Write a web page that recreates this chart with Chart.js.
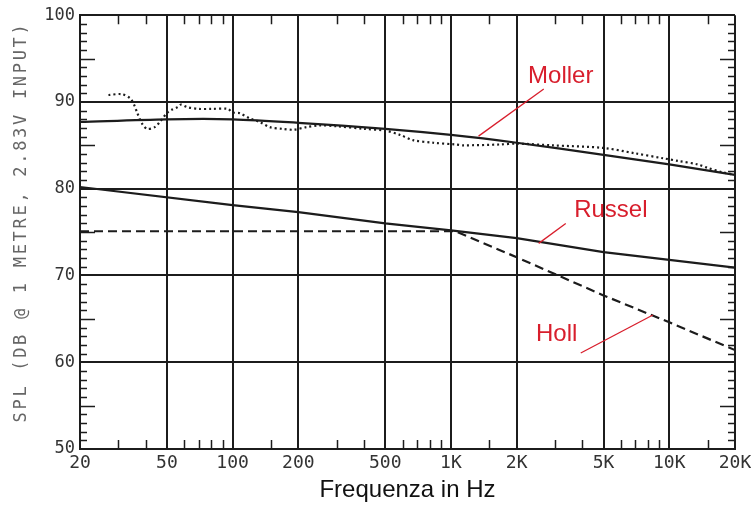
<!DOCTYPE html>
<html>
<head>
<meta charset="utf-8">
<script src="https://cdn.jsdelivr.net/npm/chart.js@4.4.0/dist/chart.umd.min.js"></script>
<style>
  html, body { margin: 0; padding: 0; background: #fff; }
</style>
</head>
<body>
<canvas id="graf" width="751" height="505"></canvas>
<script>
"use strict";

// Asse X (frequenza, log) e asse Y (SPL in dB)
const freqTicks = [20, 50, 100, 200, 500, 1000, 2000, 5000, 10000, 20000];
const freqLabels = ["20", "50", "100", "200", "500", "1K", "2K", "5K", "10K", "20K"];
const freqMinor = [30, 40, 60, 70, 80, 90, 150, 300, 400, 600, 700, 800, 900, 1500,
  3000, 4000, 6000, 7000, 8000, 9000, 15000];
const splTicks = [50, 60, 70, 80, 90, 100];

// Moller - curva misurata (puntini)
const mollerMisFreq = [27, 31, 34, 35.5, 36.5, 38.5, 40.6, 44, 46.4, 50, 52.6, 56, 58, 62, 70,
  80, 95, 100, 108, 120, 133, 148, 170, 190, 218, 250, 300, 400, 500, 585, 670, 830, 1050,
  1140, 1680, 2000, 2900, 5000, 6900, 9400, 11000, 13500, 15000, 17500, 20000];
const mollerMisSpl = [90.8, 90.9, 90.4, 89.6, 88.8, 87.5, 86.9, 87.1, 87.7, 88.7, 89.1, 89.4,
  89.7, 89.4, 89.2, 89.2, 89.2, 88.8, 88.7, 88.1, 87.7, 87.1, 86.9, 86.8, 87.1, 87.3, 87.2,
  86.9, 86.7, 86.2, 85.6, 85.3, 85.1, 85.0, 85.1, 85.2, 85.0, 84.7, 84.1, 83.5, 83.2, 82.8,
  82.4, 81.9, 81.6];

// Moller - curva target (linea continua)
const mollerFreq = [20, 50, 100, 200, 500, 1000, 2000, 5000, 10000, 20000];
const mollerSpl = [87.7, 88.0, 88.0, 87.6, 86.9, 86.2, 85.3, 83.9, 82.8, 81.6];

// Russel
const russelFreq = [20, 100, 200, 500, 1000, 2000, 5000, 10000, 20000];
const russelSpl = [80.2, 78.1, 77.3, 76.0, 75.2, 74.3, 72.7, 71.8, 70.9];

// Holl (tratteggiata)
const hollFreq = [20, 1050, 2000, 5000, 10000, 20000];
const hollSpl = [75.1, 75.1, 72.1, 67.7, 64.6, 61.4];

// Etichette rosse con freccia (in coordinate del grafico)
const noteText = ["Moller", "Russel", "Holl"];
const noteFreq = [3184, 5400, 3050];
const noteSpl = [92.9, 77.5, 63.25];
const lineaDaFreq = [1338, 2523, 3932];
const lineaDaSpl = [86.06, 73.7, 61.06];
const lineaAFreq = [2662, 3356, 8414];
const lineaASpl = [91.5, 76.0, 65.44];

function punti(fr, val) {
  return fr.map((f, i) => ({ x: f, y: val[i] }));
}

const nero = "#1c1c1c";
const rosso = "#d81e2c";

/* Tacche piccole, titolo asse Y e note rosse */
const extra = {
  id: "extra",
  afterDraw(chart) {
    const ctx = chart.ctx;
    const sx = chart.scales.x;
    const sy = chart.scales.y;
    const a = chart.chartArea;

    ctx.save();
    ctx.strokeStyle = nero;
    ctx.lineWidth = 1.5;
    ctx.beginPath();
    freqMinor.forEach((f) => {
      const px = Math.round(sx.getPixelForValue(f)) + 0.5;
      ctx.moveTo(px, a.top);
      ctx.lineTo(px, a.top + 9);
      ctx.moveTo(px, a.bottom);
      ctx.lineTo(px, a.bottom - 9);
    });
    for (let v = 51; v < 100; v++) {
      if (v % 10 === 0) continue;
      const len = v % 5 === 0 ? 15 : 7;
      const py = Math.round(sy.getPixelForValue(v)) + 0.5;
      ctx.moveTo(a.left, py);
      ctx.lineTo(a.left + len, py);
      ctx.moveTo(a.right, py);
      ctx.lineTo(a.right - len, py);
    }
    ctx.stroke();

    // titolo asse Y, spaziato come il plotter
    ctx.translate(22, 222);
    ctx.rotate(-Math.PI / 2);
    ctx.font = "17px 'DejaVu Sans Mono'";
    ctx.letterSpacing = "2.7px";
    ctx.fillStyle = "#666";
    ctx.textAlign = "center";
    ctx.textBaseline = "middle";
    ctx.fillText("SPL (DB @ 1 METRE, 2.83V INPUT)", 0, 0);
    ctx.restore();

    // note rosse
    ctx.save();
    ctx.strokeStyle = rosso;
    ctx.fillStyle = rosso;
    ctx.lineWidth = 1.3;
    ctx.font = "24px 'Liberation Sans'";
    ctx.textAlign = "center";
    ctx.textBaseline = "middle";
    noteText.forEach((t, i) => {
      ctx.beginPath();
      ctx.moveTo(sx.getPixelForValue(lineaDaFreq[i]), sy.getPixelForValue(lineaDaSpl[i]));
      ctx.lineTo(sx.getPixelForValue(lineaAFreq[i]), sy.getPixelForValue(lineaASpl[i]));
      ctx.stroke();
      ctx.fillText(t, sx.getPixelForValue(noteFreq[i]), sy.getPixelForValue(noteSpl[i]));
    });
    ctx.restore();
  },
};

const config = {
  type: "scatter",
  data: {
    datasets: [
      {
        label: "Moller misurata",
        data: punti(mollerMisFreq, mollerMisSpl),
        showLine: true,
        borderColor: nero,
        borderWidth: 2.2,
        borderDash: [2, 3],
        pointRadius: 0,
        tension: 0.3,
      },
      {
        label: "Moller",
        data: punti(mollerFreq, mollerSpl),
        showLine: true,
        borderColor: nero,
        borderWidth: 2.2,
        pointRadius: 0,
        tension: 0.3,
      },
      {
        label: "Russel",
        data: punti(russelFreq, russelSpl),
        showLine: true,
        borderColor: nero,
        borderWidth: 2.2,
        pointRadius: 0,
      },
      {
        label: "Holl",
        data: punti(hollFreq, hollSpl),
        showLine: true,
        borderColor: nero,
        borderWidth: 2.2,
        borderDash: [9, 5],
        pointRadius: 0,
      },
    ],
  },
  options: {
    responsive: false,
    animation: false,
    layout: { padding: { top: 15, right: 16, left: 0, bottom: 0 } },
    plugins: {
      legend: { display: false },
      tooltip: { enabled: false },
    },
    scales: {
      x: {
        type: "logarithmic",
        min: 20,
        max: 20000,
        afterBuildTicks: (scale) => {
          scale.ticks = freqTicks.map((v) => ({ value: v }));
        },
        afterFit: (scale) => {
          scale.height = 56;
          scale.paddingLeft = 0;
          scale.paddingRight = 0;
        },
        grid: { color: nero, lineWidth: 2, drawTicks: false },
        border: { color: nero, width: 2 },
        ticks: {
          autoSkip: false,
          maxRotation: 0,
          padding: 4,
          color: "#333",
          font: { family: "DejaVu Sans Mono", size: 18 },
          callback: (v, i) => freqLabels[i],
        },
        title: {
          display: true,
          text: "Frequenza in Hz",
          color: "#111",
          font: { family: "Liberation Sans", size: 24 },
          padding: { top: 0, bottom: 0 },
        },
      },
      y: {
        min: 50,
        max: 100,
        afterBuildTicks: (scale) => {
          scale.ticks = splTicks.map((v) => ({ value: v }));
        },
        afterFit: (scale) => {
          scale.width = 80;
        },
        grid: { color: nero, lineWidth: 2, drawTicks: false },
        border: { color: nero, width: 2 },
        ticks: {
          padding: 5,
          color: "#333",
          font: { family: "DejaVu Sans Mono", size: 17 },
        },
      },
    },
  },
  plugins: [extra],
};

new Chart(document.getElementById("graf"), config);
</script>
</body>
</html>
